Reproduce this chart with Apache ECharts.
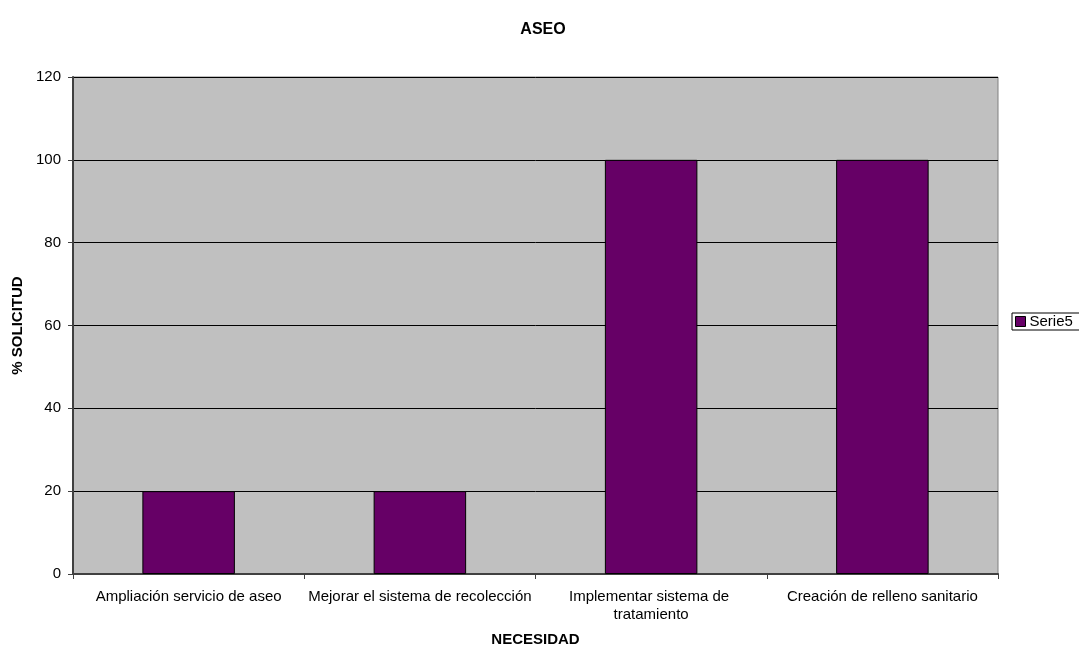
<!DOCTYPE html>
<html><head><meta charset="utf-8">
<script src="https://cdn.jsdelivr.net/npm/echarts@6/dist/echarts.min.js"></script>
<style>html,body{margin:0;padding:0;background:#fff}#c{width:1079px;height:648px}</style>
</head><body><div id="c"></div>
<script>
const categories = ["Ampliación servicio de aseo", "Mejorar el sistema de recolección", "Implementar sistema de tratamiento", "Creación de relleno sanitario"];
const serie5 = [20, 20, 100, 100];
const yTicks = [0, 20, 40, 60, 80, 100, 120];

const F = '"Liberation Sans", Arial, sans-serif';
const chart = echarts.init(document.getElementById('c'));
chart.setOption({
  animation: false,
  backgroundColor: '#fff',
  title: { text: 'ASEO', left: 538, textAlign: 'center', top: 17, textStyle: { fontFamily: F, fontSize: 16, fontWeight: 'bold', color: '#000' } },
  legend: {
    left: 1012, top: 313, orient: 'vertical',
    data: ['Serie5'],
    itemWidth: 10, itemHeight: 10, itemGap: 0,
    borderColor: '#000', borderWidth: 1, padding: [1, 12, 1, 3],
    icon: 'rect',
    textStyle: { fontFamily: F, fontSize: 15, color: '#000', padding: [0, 0, 0, -1] },
    itemStyle: { borderColor: '#000', borderWidth: 1 }
  },
  grid: { left: 73, right: 81, top: 77, bottom: 74, containLabel: false, outerBoundsMode: 'none', show: true, backgroundColor: '#C0C0C0', borderColor: '#808080', borderWidth: 1 },
  xAxis: {
    type: 'category', data: categories,
    name: 'NECESIDAD', nameLocation: 'middle', nameGap: 58,
    nameTextStyle: { fontFamily: F, fontSize: 15, fontWeight: 'bold', color: '#000' },
    axisLine: { lineStyle: { color: '#404040', width: 2 } },
    axisTick: { show: true, alignWithLabel: false, length: 5, lineStyle: { color: '#404040' } },
    axisLabel: { interval: 0, fontFamily: F, fontSize: 15, color: '#000', margin: 14, width: 232, overflow: 'break', lineHeight: 18 }
  },
  yAxis: {
    type: 'value', min: yTicks[0], max: yTicks[yTicks.length - 1], interval: 20,
    name: '% SOLICITUD', nameLocation: 'middle', nameGap: 46, nameRotate: 90,
    nameTextStyle: { fontFamily: F, fontSize: 15, fontWeight: 'bold', color: '#000' },
    axisLine: { show: true, lineStyle: { color: '#404040', width: 2 } },
    axisTick: { show: true, length: 5, lineStyle: { color: '#404040' } },
    axisLabel: { fontFamily: F, fontSize: 15, color: '#000', margin: 12 },
    splitLine: { show: true, lineStyle: { color: '#000', width: 1 } }
  },
  series: [{
    name: 'Serie5', type: 'bar', data: serie5,
    barCategoryGap: '60%',
    itemStyle: { color: '#660066', borderColor: '#000', borderWidth: 1 }
  }]
});
</script></body></html>
